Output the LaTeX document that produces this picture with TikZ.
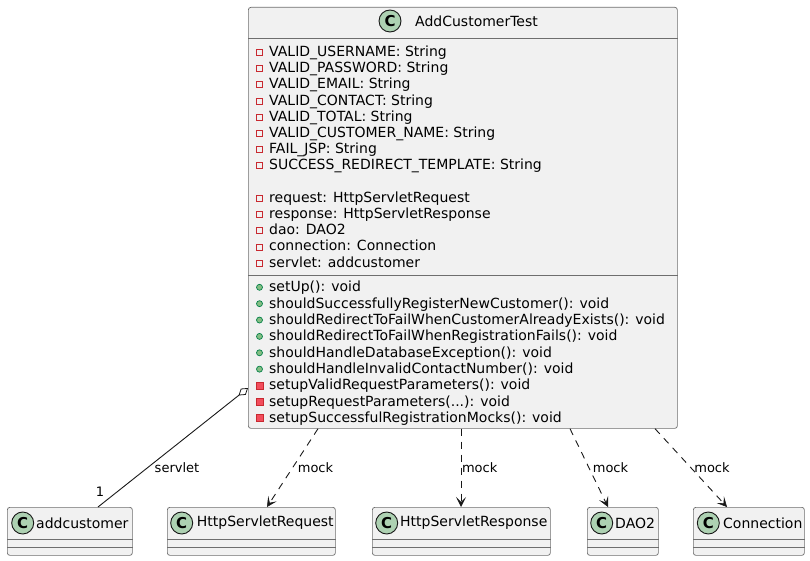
\documentclass[tikz,border=0pt]{standalone}
\usepackage{fontspec}
\setmainfont{DejaVu Sans}
\usetikzlibrary{arrows.meta,calc}
\definecolor{boxfill}{HTML}{F1F1F1}
\definecolor{boxline}{HTML}{181818}
\definecolor{frameline}{HTML}{6E6E6E}
\definecolor{circfill}{HTML}{ADD1B2}
\definecolor{privline}{HTML}{C82930}
\definecolor{privfill}{HTML}{F24D5C}
\definecolor{publine}{HTML}{038048}
\definecolor{pubfill}{HTML}{84BE84}

\begin{document}
\begin{tikzpicture}[x=1pt,y=-1pt,
  classbox/.style={draw=frameline, line width=0.7pt, fill=boxfill, rounded corners=2.5pt,
    inner sep=0pt, anchor=north west},
  sepline/.style={draw=frameline, line width=0.7pt},
  classicon/.style={circle, draw=boxline, line width=0.9pt, fill=circfill, minimum size=22pt,
    inner sep=0pt, font=\fontsize{15pt}{15pt}\selectfont\bfseries},
  classname/.style={anchor=west, inner sep=0pt, font=\fontsize{14pt}{16pt}\selectfont},
  member/.style={anchor=base west, inner sep=0pt, font=\fontsize{14pt}{16pt}\selectfont},
  privfield/.style={draw=privline, line width=0.8pt, fill=none},
  privmethod/.style={draw=privline, line width=0.8pt, fill=privfill},
  pubmethod/.style={draw=publine, line width=0.7pt, fill=pubfill},
  rel/.style={draw=boxline, line width=0.9pt},
  mockrel/.style={rel, dash pattern=on 7pt off 6pt,
    -{Stealth[length=10pt, width=10pt, inset=5pt, line width=0.5pt]}},
  aggrel/.style={rel, {Diamond[length=12pt, width=8pt, fill=white, line width=0.8pt]}-},
  rellabel/.style={inner sep=0pt, font=\fontsize{13pt}{15pt}\selectfont},
]
\useasboundingbox (0,0) rectangle (810,561);

% ---------- AddCustomerTest ----------
\node[classbox, minimum width=429pt, minimum height=421pt] (main) at (248,7) {};
\node[classicon] (mainicon) at (390,21) {C};
\node[classname] (mainname) at (415,21) {AddCustomerTest};
\draw[sepline] (main.west |- 0,38) -- (main.east |- 0,38);
\draw[sepline] (main.west |- 0,275) -- (main.east |- 0,275);

% constants
\foreach \t [count=\i from 0] in {VALID\_USERNAME: String, VALID\_PASSWORD: String,
    VALID\_EMAIL: String, VALID\_CONTACT: String, VALID\_TOTAL: String,
    VALID\_CUSTOMER\_NAME: String, FAIL\_JSP: String, SUCCESS\_REDIRECT\_TEMPLATE: String} {
  \pgfmathsetmacro\yb{56.5+16.2*\i}
  \draw[privfield] (256.5,\yb-7) rectangle (262.5,\yb-1);
  \node[member] (fa\i) at (269,\yb) {\t};
}
% mocked collaborators
\foreach \t [count=\i from 0] in {request: HttpServletRequest, response: HttpServletResponse,
    dao: DAO2, connection: Connection, servlet: addcustomer} {
  \pgfmathsetmacro\yb{56.5+16.2*(\i+9)}
  \draw[privfield] (256.5,\yb-7) rectangle (262.5,\yb-1);
  \node[member] (fb\i) at (269,\yb) {\t};
}
% public test methods
\foreach \t [count=\i from 0] in {setUp(): void, shouldSuccessfullyRegisterNewCustomer(): void,
    shouldRedirectToFailWhenCustomerAlreadyExists(): void,
    shouldRedirectToFailWhenRegistrationFails(): void,
    shouldHandleDatabaseException(): void, shouldHandleInvalidContactNumber(): void} {
  \pgfmathsetmacro\yb{291.7+16.37*\i}
  \draw[pubmethod] (259.5,\yb-4.4) circle (3pt);
  \node[member] (ma\i) at (269,\yb) {\t};
}
% private helpers
\foreach \t [count=\i from 0] in {setupValidRequestParameters(): void,
    setupRequestParameters(.{}.{}.): void, setupSuccessfulRegistrationMocks(): void} {
  \pgfmathsetmacro\yb{291.7+16.37*(\i+6)}
  \draw[privmethod] (256,\yb-7.9) rectangle (263,\yb-0.9);
  \node[member] (mb\i) at (269,\yb) {\t};
}

% ---------- collaborator classes ----------
\foreach \n/\l/\w/\c/\tx/\lab in {addc/7/125/22.7/36/addcustomer,
    req/167/168/181.7/196.7/HttpServletRequest,
    resp/372/178/386.7/400/HttpServletResponse,
    dao/587/71/601.7/615/DAO2,
    conn/693/111/708.3/723/Connection} {
  \node[classbox, minimum width=\w pt, minimum height=48pt] (\n) at (\l,507) {};
  \node[classicon] (\n icon) at (\c,523) {C};
  \node[classname] (\n name) at (\tx,523) {\lab};
  \draw[sepline] (\n.west |- 0,539) -- (\n.east |- 0,539);
  \draw[sepline] (\n.west |- 0,547) -- (\n.east |- 0,547);
}

% ---------- relations ----------
\draw[aggrel] (main.west |- 0,388) -- (98,0 |- addc.north);
\node[rellabel] (aggname) at (177,468) {servlet};
\node[rellabel] (aggmult) at (100,491.5) {1};

\draw[mockrel] (318,0 |- main.south) -- (267,0 |- req.north);
\draw[mockrel] (461,0 |- main.south) -- (461,0 |- resp.north);
\draw[mockrel] (570,0 |- main.south) -- (608,0 |- dao.north);
\draw[mockrel] (655,0 |- main.south) -- (727,0 |- conn.north);
\node[rellabel] (mockreq)  at (315.5,468) {mock};
\node[rellabel] (mockresp) at (479.7,468) {mock};
\node[rellabel] (mockdao)  at (610.5,468) {mock};
\node[rellabel] (mockconn) at (712,468) {mock};
\end{tikzpicture}
\end{document}
